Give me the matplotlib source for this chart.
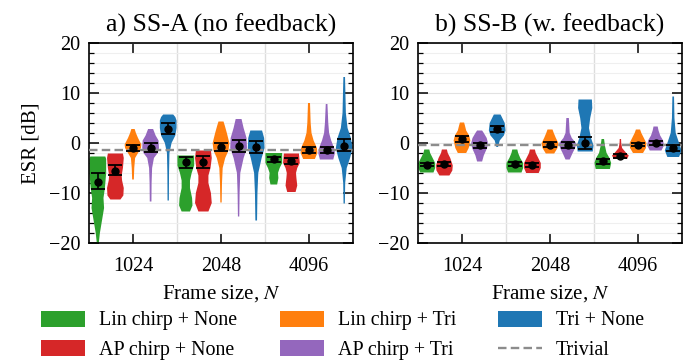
import numpy as np
import matplotlib
matplotlib.use('agg')
import matplotlib.pyplot as plt
from matplotlib.patches import Patch
from matplotlib.lines import Line2D
from matplotlib.ticker import MultipleLocator

plt.rcParams['font.family'] = ['Liberation Serif', 'DejaVu Serif']
plt.rcParams['mathtext.fontset'] = 'stix'
plt.rcParams['font.size'] = 14

frame_sizes = ['1024', '2048', '4096']
configs = ['Lin chirp + None', 'AP chirp + None', 'Lin chirp + Tri', 'AP chirp + Tri', 'Tri + None']
colors = ['#2ca02c', '#d62728', '#ff7f0e', '#9467bd', '#1f77b4']

# mean and error bar ends, [frame size][config]
ssa_mean = [[-7.8, -5.6, -1.0, -1.0, 2.8],
            [-3.9, -3.9, -0.8, -0.7, -0.9],
            [-3.3, -3.6, -1.5, -1.4, -0.6]]
ssa_lo = [[-9.3, -6.5, -1.6, -1.9, 1.8],
          [-5.0, -5.1, -1.7, -1.9, -2.1],
          [-3.9, -4.3, -2.1, -2.0, -1.6]]
ssa_hi = [[-6.1, -4.5, -0.5, 0.0, 3.9],
          [-2.8, -2.6, 0.0, 0.6, 0.4],
          [-2.8, -3.0, -0.8, -0.8, 0.7]]

ssb_mean = [[-4.4, -4.2, 0.8, -0.5, 2.8],
            [-4.2, -4.4, -0.4, -0.5, 0.0],
            [-3.7, -2.7, -0.4, -0.1, -1.1]]
ssb_lo = [[-4.7, -4.6, 0.2, -1.1, 2.2],
          [-4.6, -4.8, -0.9, -1.1, -1.3],
          [-4.2, -3.1, -0.7, -0.5, -1.7]]
ssb_hi = [[-4.0, -3.9, 1.4, 0.0, 3.3],
          [-3.8, -4.0, 0.1, 0.1, 1.2],
          [-3.2, -2.3, -0.1, 0.3, -0.5]]

trivial_a = -1.5
trivial_b = -0.4

# violin outlines: (ESR, relative width), bottom to top
ssa_shapes = [
    [  # 1024
        [(-21, 0.05), (-18, 0.25), (-15, 0.55), (-13, 0.75), (-11, 0.68), (-9, 0.85), (-6, 1.0), (-3.2, 1.0), (-2.7, 0.9)],
        [(-11.3, 0.6), (-10.5, 0.95), (-9, 1.0), (-7.5, 0.8), (-6.5, 0.75), (-5, 0.9), (-3, 1.0), (-2.1, 0.9)],
        [(-7.3, 0.1), (-5, 0.15), (-3, 0.25), (-2, 0.6), (-1, 0.95), (-0.3, 1.0), (1, 0.6), (2, 0.35), (2.8, 0.2)],
        [(-11.7, 0.1), (-8, 0.12), (-5, 0.18), (-3, 0.4), (-2, 0.85), (-1, 1.0), (0.5, 0.95), (1.5, 0.6), (2.8, 0.3)],
        [(-11.5, 0.08), (-6, 0.1), (-2, 0.15), (0, 0.4), (1.5, 0.85), (3, 1.0), (4.5, 1.0), (5.2, 0.85), (5.7, 0.6)],
    ],
    [  # 2048
        [(-13.7, 0.5), (-12.5, 0.8), (-11, 0.75), (-9, 0.5), (-7.5, 0.5), (-6, 0.7), (-4.5, 1.0), (-2.5, 1.0)],
        [(-13.7, 0.6), (-12, 1.0), (-10, 0.9), (-8, 0.6), (-6.5, 0.6), (-5, 0.85), (-3, 1.0), (-1.5, 0.9)],
        [(-11.9, 0.08), (-8, 0.12), (-5, 0.2), (-3, 0.5), (-1.5, 0.9), (0, 1.0), (2, 0.7), (3.5, 0.45), (4.3, 0.3)],
        [(-14.7, 0.08), (-10, 0.12), (-6, 0.2), (-3, 0.6), (-1, 1.0), (1, 0.95), (3, 0.6), (4.8, 0.35)],
        [(-15.5, 0.1), (-10, 0.15), (-6, 0.25), (-3, 0.65), (-1, 1.0), (1, 0.95), (2.5, 0.7)],
    ],
    [  # 4096
        [(-8.3, 0.4), (-7, 0.55), (-6, 0.5), (-5, 0.7), (-4, 1.0), (-2, 1.0)],
        [(-9.8, 0.5), (-8.5, 0.7), (-7, 0.6), (-6, 0.55), (-5, 0.7), (-4, 1.0), (-2.1, 0.9)],
        [(-3.2, 0.7), (-2, 1.0), (-1, 0.95), (0.5, 0.55), (2, 0.3), (4, 0.2), (8, 0.12)],
        [(-3.3, 0.8), (-2, 1.0), (-1, 0.9), (0.5, 0.55), (2, 0.3), (4, 0.2), (7.8, 0.1)],
        [(-12.1, 0.08), (-8, 0.12), (-5, 0.3), (-3, 0.7), (-1, 1.0), (1, 0.8), (3, 0.4), (6, 0.2), (13.2, 0.1)],
    ],
]

ssb_shapes = [
    [  # 1024
        [(-5.9, 0.8), (-5, 1.0), (-4, 1.0), (-3, 0.7), (-2, 0.4), (-1.3, 0.3)],
        [(-6.5, 0.6), (-5.5, 0.95), (-4.5, 1.0), (-3, 0.7), (-2, 0.4), (-1.3, 0.3)],
        [(-2, 0.5), (-1, 0.8), (0.5, 1.0), (1.5, 0.85), (2.5, 0.5), (3.5, 0.35), (4.1, 0.25)],
        [(-3.7, 0.3), (-2.5, 0.5), (-1, 0.9), (0, 1.0), (1, 0.85), (2, 0.5), (2.5, 0.3)],
        [(-0.8, 0.1), (0.5, 0.3), (1.5, 0.8), (2.5, 1.0), (4, 0.9), (5.2, 0.55), (5.7, 0.4)],
    ],
    [  # 2048
        [(-5.9, 0.8), (-5, 1.0), (-4, 1.0), (-3, 0.65), (-2, 0.4), (-1.3, 0.3)],
        [(-6, 0.75), (-5, 1.0), (-4, 1.0), (-3, 0.7), (-2, 0.4), (-1.3, 0.3)],
        [(-2.1, 0.5), (-1, 0.9), (0, 1.0), (1, 0.7), (2, 0.45), (2.7, 0.3)],
        [(-3.3, 0.25), (-2, 0.6), (-1, 0.9), (0, 1.0), (1, 0.5), (2, 0.25), (3.5, 0.2), (5, 0.15)],
        [(-1.7, 0.9), (-0.5, 1.0), (1, 0.7), (3, 0.45), (5, 0.6), (7, 0.85), (8.7, 0.8)],
    ],
    [  # 4096
        [(-5.2, 0.85), (-4, 1.0), (-3, 0.8), (-2, 0.45), (-0.5, 0.25), (0.8, 0.15)],
        [(-3.2, 0.8), (-2.5, 1.0), (-2, 0.7), (-1, 0.2), (0, 0.1), (0.8, 0.08)],
        [(-2, 0.6), (-1, 0.95), (0, 1.0), (1, 0.7), (2, 0.4), (2.7, 0.25)],
        [(-1.5, 0.7), (-0.5, 1.0), (0.5, 0.9), (1.5, 0.55), (2.5, 0.35), (3.3, 0.25)],
        [(-2.8, 0.7), (-1.5, 1.0), (0, 0.7), (2, 0.3), (5, 0.15), (9.3, 0.1)],
    ],
]

offsets = [-0.4, -0.2, 0.0, 0.2, 0.4]
trivial_style = dict(color='#8c8c8c', ls='--', lw=1.7, dashes=(3.6, 1.8))


def draw_panel(ax, shapes, mean, lo, hi, trivial, title):
    ax.set_axisbelow(True)
    ax.grid(True, which='minor', axis='y', color='#efefef', lw=0.8)
    ax.grid(True, which='major', axis='y', color='#e2e2e2', lw=0.8)
    for xb in [0.5, 1.5]:
        ax.axvline(xb, color='#dddddd', lw=1.0, zorder=0.5)

    for g in range(len(frame_sizes)):
        for c in range(len(configs)):
            pts = np.array(shapes[g][c])
            stats = dict(coords=pts[:, 0], vals=pts[:, 1], mean=mean[g][c],
                         median=mean[g][c], min=pts[0, 0], max=pts[-1, 0])
            parts = ax.violin([stats], positions=[g + offsets[c]], widths=0.19,
                              showmeans=False, showextrema=False, showmedians=False)
            for b in parts['bodies']:
                b.set_facecolor(colors[c])
                b.set_edgecolor('none')
                b.set_alpha(1)
                b.set_zorder(2)

    ax.axhline(trivial, zorder=3, **trivial_style)

    for g in range(len(frame_sizes)):
        for c in range(len(configs)):
            m = mean[g][c]
            ax.errorbar(g + offsets[c], m, yerr=[[m - lo[g][c]], [hi[g][c] - m]],
                        fmt='o', color='k', ms=5, capsize=4.7, capthick=1.3, elinewidth=1.2,
                        zorder=4)

    ax.set_xlim(-0.5, 2.5)
    ax.set_ylim(-20, 20)
    ax.set_xticks(range(len(frame_sizes)))
    ax.set_xticklabels(frame_sizes)
    ax.set_yticks([-20, -10, 0, 10, 20])
    ax.set_yticklabels(['\u221220', '\u221210', '0', '10', '20'])
    ax.yaxis.set_minor_locator(MultipleLocator(2))
    ax.tick_params(which='major', direction='in', top=True, right=True, length=7, width=1.1,
                   labelsize=14.5, pad=6)
    ax.tick_params(axis='x', which='major', pad=10)
    ax.tick_params(which='minor', direction='in', top=False, bottom=False, right=True, left=True,
                   length=3.5, width=0.9)
    for s in ax.spines.values():
        s.set_linewidth(1.2)
    ax.set_xlabel('Frame size, $N$', fontsize=15, labelpad=5)
    ax.set_title(title, fontsize=18.5, pad=8)


fig = plt.figure(figsize=(6.89, 3.64), dpi=100)
ax1 = fig.add_axes([89 / 689, 1 - 243 / 364, 264 / 689, 200 / 364])
ax2 = fig.add_axes([418 / 689, 1 - 243 / 364, 264 / 689, 200 / 364])

draw_panel(ax1, ssa_shapes, ssa_mean, ssa_lo, ssa_hi, trivial_a, 'a) SS-A (no feedback)')
draw_panel(ax2, ssb_shapes, ssb_mean, ssb_lo, ssb_hi, trivial_b, 'b) SS-B (w. feedback)')
ax1.set_ylabel('ESR [dB]', fontsize=15, labelpad=6)

handles = [Patch(facecolor=colors[0], label=configs[0]),
           Patch(facecolor=colors[1], label=configs[1]),
           Patch(facecolor=colors[2], label=configs[2]),
           Patch(facecolor=colors[3], label=configs[3]),
           Patch(facecolor=colors[4], label=configs[4]),
           Line2D([], [], label='Trivial', **trivial_style)]
fig.legend(handles=handles, ncol=3, loc='lower left', bbox_to_anchor=(0.037, -0.034),
           frameon=False, fontsize=14.4, handlelength=2.2, handleheight=0.85,
           handletextpad=0.7, columnspacing=2.1, labelspacing=0.5, borderpad=0.3)

plt.savefig('out.png', dpi=100)
plt.close()
